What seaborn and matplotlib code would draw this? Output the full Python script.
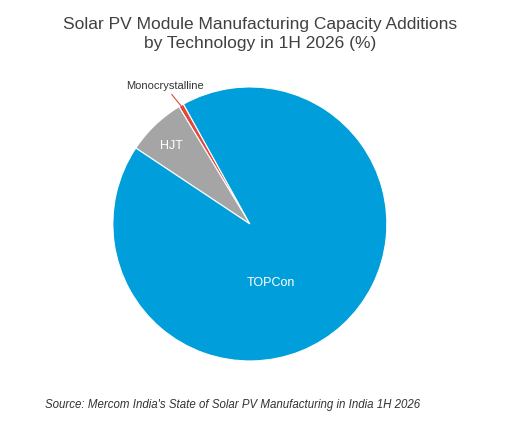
import matplotlib
matplotlib.use("Agg")
import matplotlib.pyplot as plt
import seaborn as sns
import numpy as np

sns.set_theme(style="white")
plt.rcParams['font.family'] = ['Liberation Sans', 'DejaVu Sans']

categories = ["Monocrystalline", "HJT", "TOPCon"]
values = [0.6, 7.0, 92.4]
colors = ["#E0483A", "#A5A5A5", "#009FDB"]

fig = plt.figure(figsize=(5.2, 4.37), dpi=100)
ax = fig.add_axes([0.217, 0.174, 0.527, 0.627])
wedges, _ = ax.pie(values, colors=colors, startangle=119, counterclock=True,
                   wedgeprops=dict(edgecolor="white", linewidth=0.8))
ax.set_xlim(-1, 1)
ax.set_ylim(-1, 1)
ax.set_aspect("equal")

def mid(w):
    return np.deg2rad((w.theta1 + w.theta2) / 2)

a = mid(wedges[1])
ax.text(0.83*np.cos(a), 0.83*np.sin(a) - 0.03, "HJT", color="white", ha="center", va="center", fontsize=9)
ax.text(0.15, -0.43, "TOPCon", color="white", ha="center", va="center", fontsize=9)
a = mid(wedges[0])
ax.annotate("Monocrystalline", xy=(0.98*np.cos(a), 0.98*np.sin(a)), xytext=(-0.62, 0.97),
            ha="center", va="bottom", fontsize=8, color="#333333",
            arrowprops=dict(arrowstyle="-", color="#E0483A", lw=0.8, shrinkA=0, shrinkB=0),
            annotation_clip=False)

fig.text(0.5, 0.96, "Solar PV Module Manufacturing Capacity Additions\nby Technology in 1H 2026 (%)",
         ha="center", va="top", fontsize=12.5, color="#404040", linespacing=1.3)
fig.text(0.087, 0.073, "Source: Mercom India's State of Solar PV Manufacturing in India 1H 2026",
         ha="left", va="center", fontsize=8.3, style="italic", color="#333333")
fig.savefig("out.png", dpi=100)
